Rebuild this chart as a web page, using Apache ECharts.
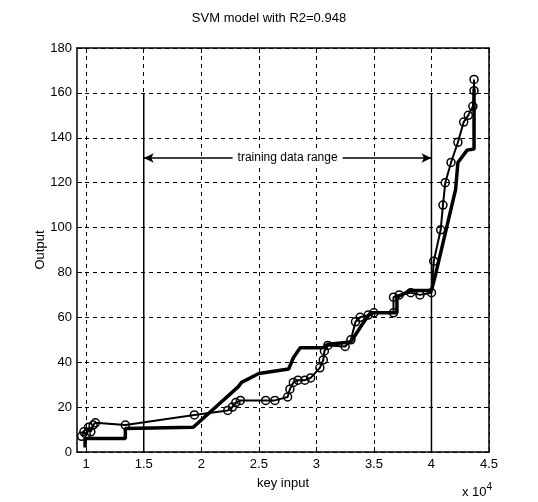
<!DOCTYPE html>
<html>
<head>
<meta charset="utf-8">
<script src="https://cdn.jsdelivr.net/npm/echarts@6/dist/echarts.min.js"></script>
<style>
  html, body { margin: 0; padding: 0; background: #fff; }
  #chart { width: 538px; height: 502px; }
</style>
</head>
<body>
<div id="chart"></div>
<script>
// x values are key input in units of 10^4
const xTicks = [1, 1.5, 2, 2.5, 3, 3.5, 4, 4.5];

// measured output (thick line)
const actualX = [0.99, 0.99, 1.34, 1.34, 1.93, 2.32, 2.35, 2.50, 2.76, 2.80, 2.86, 3.06, 3.10, 3.30, 3.40, 3.47, 3.70, 3.70, 3.82, 4.00, 4.04, 4.21, 4.23, 4.31, 4.37, 4.37, 4.37];
const actualY = [2, 6, 6, 10.5, 11, 29, 31, 35, 37, 42, 46.5, 46.5, 48, 49, 57, 62, 62, 69, 72, 72, 80, 117, 129, 134.5, 135, 147, 162];

// SVM model output (line with circles)
const svmX = [0.96, 0.98, 1.00, 1.02, 1.04, 1.06, 1.08, 1.34, 1.94, 2.23, 2.27, 2.30, 2.34, 2.56, 2.64, 2.75, 2.77, 2.80, 2.84, 2.90, 2.95, 3.03, 3.06, 3.07, 3.10, 3.25, 3.30, 3.34, 3.38, 3.45, 3.50, 3.67, 3.67, 3.72, 3.82, 3.90, 4.00, 4.02, 4.08, 4.10, 4.12, 4.17, 4.23, 4.28, 4.32, 4.36, 4.37, 4.37];
const svmY = [7, 9, 8, 11, 9, 12, 13, 12, 16.5, 18.5, 20, 22, 23, 23, 23, 24.5, 28, 31, 32, 32, 33, 37.5, 41, 45, 47.5, 47, 50, 58, 60, 61, 62, 62, 69, 70, 71, 70, 71, 85, 99, 110, 120, 129, 138, 147, 150, 154, 161, 166];

// training data range
const trainStart = 1.5;
const trainEnd = 4.0;
const trainTop = 160;
const arrowLevel = 131;

const pair = (xs, ys) => xs.map((x, i) => [x, ys[i]]);

const font = "'Liberation Sans', Arial, sans-serif";
const chart = echarts.init(document.getElementById('chart'));

const baseX = {
  type: 'value',
  min: 0.92,
  max: 4.5,
  axisLine: { show: true, onZero: false, lineStyle: { color: '#000', width: 1.5 } },
  axisTick: { show: true, inside: true, length: 5, customValues: xTicks, lineStyle: { color: '#000' } },
  splitLine: { show: false }
};
const baseY = {
  type: 'value',
  min: 0,
  max: 180,
  interval: 20,
  axisLine: { show: true, onZero: false, lineStyle: { color: '#000', width: 1.5 } },
  axisTick: { show: true, inside: true, length: 5, lineStyle: { color: '#000' } },
  splitLine: { show: false }
};

chart.setOption({
  animation: false,
  backgroundColor: '#fff',
  title: {
    text: 'SVM model with R2=0.948',
    left: 'center',
    top: 7,
    textStyle: { fontFamily: font, fontSize: 13, fontWeight: 'normal', color: '#000' }
  },
  grid: { left: 77, right: 49, top: 48, bottom: 50 },
  xAxis: [
    Object.assign({}, baseX, {
      position: 'bottom',
      name: 'key input',
      nameLocation: 'middle',
      nameGap: 25,
      nameTextStyle: { fontFamily: font, fontSize: 13, color: '#000' },
      axisLabel: { customValues: xTicks, color: '#000', fontFamily: font, fontSize: 13, margin: 6 },
      splitLine: { show: true, lineStyle: { color: '#000', type: [4, 4], width: 1 } }
    }),
    Object.assign({}, baseX, { position: 'top', axisLabel: { show: false } })
  ],
  yAxis: [
    Object.assign({}, baseY, {
      position: 'left',
      name: 'Output',
      nameLocation: 'middle',
      nameGap: 30,
      nameMoveOverlap: false,
      nameTextStyle: { fontFamily: font, fontSize: 13, color: '#000' },
      axisLabel: { color: '#000', fontFamily: font, fontSize: 13, margin: 5 },
      splitLine: { show: true, lineStyle: { color: '#000', type: [4, 4], width: 1 } }
    }),
    Object.assign({}, baseY, { position: 'right', axisLabel: { show: false } })
  ],
  graphic: [{
    type: 'text',
    left: 462,
    top: 482,
    style: {
      text: 'x 10{s|4}',
      fontFamily: font,
      fontSize: 13,
      fill: '#000',
      rich: { s: { fontFamily: font, fontSize: 10, verticalAlign: 'top', padding: [0, 0, 10, 0] } }
    }
  }],
  series: [
    {
      name: 'train start',
      type: 'line',
      data: [[trainStart, 0], [trainStart, trainTop]],
      symbol: 'none',
      lineStyle: { color: '#000', width: 1.5 },
      z: 3,
      markLine: {
        silent: true,
        symbol: ['arrow', 'arrow'],
        symbolSize: [7, 10],
        lineStyle: { color: '#000', width: 1.5, type: 'solid' },
        label: {
          show: true,
          position: 'middle',
          distance: 0,
          verticalAlign: 'middle',
          formatter: 'training data range',
          color: '#000',
          fontFamily: font,
          fontSize: 12,
          backgroundColor: '#fff',
          padding: [2, 5]
        },
        data: [[{ coord: [trainStart, arrowLevel] }, { coord: [trainEnd, arrowLevel] }]]
      }
    },
    {
      name: 'train end',
      type: 'line',
      data: [[trainEnd, 0], [trainEnd, trainTop]],
      symbol: 'none',
      lineStyle: { color: '#000', width: 1.5 },
      z: 3
    },
    {
      name: 'measured',
      type: 'line',
      data: pair(actualX, actualY),
      symbol: 'none',
      lineStyle: { color: '#000', width: 3.5 },
      z: 4
    },
    {
      name: 'SVM',
      type: 'line',
      data: pair(svmX, svmY),
      symbol: 'circle',
      symbolSize: 8,
      itemStyle: { color: 'rgba(255,255,255,0)', borderColor: '#000', borderWidth: 1.5 },
      lineStyle: { color: '#000', width: 2 },
      z: 5
    }
  ]
});
</script>
</body>
</html>
